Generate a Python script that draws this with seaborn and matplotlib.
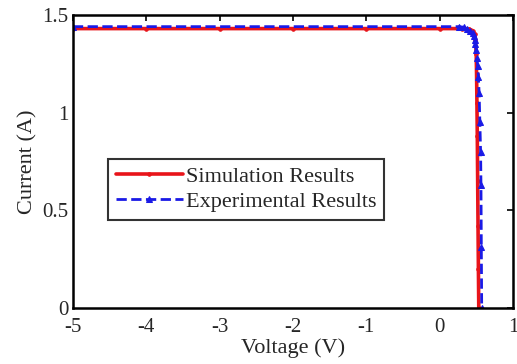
import matplotlib
matplotlib.use("Agg")
import matplotlib.pyplot as plt
import pandas as pd
import seaborn as sns

# simulated I-V curve
sim_voltage = [-5.0, -4.0, -3.0, -2.0, -1.0, 0.0, 0.30, 0.40, 0.45, 0.48, 0.49,
               0.50, 0.505, 0.51, 0.515, 0.52, 0.525, 0.53, 0.535]
sim_current = [1.43, 1.43, 1.43, 1.43, 1.43, 1.43, 1.43, 1.428, 1.42, 1.40, 1.37,
               1.30, 1.20, 1.05, 0.88, 0.65, 0.42, 0.20, 0.0]

# measured I-V points
exp_voltage = [-5.0, 0.27, 0.33, 0.38, 0.42, 0.45, 0.47, 0.48, 0.49, 0.50, 0.51,
               0.52, 0.53, 0.54, 0.55, 0.56, 0.565, 0.57, 0.575]
exp_current = [1.44, 1.44, 1.437, 1.43, 1.42, 1.41, 1.39, 1.37, 1.35, 1.32, 1.28,
               1.24, 1.18, 1.10, 0.95, 0.80, 0.63, 0.31, 0.0]

sim = pd.DataFrame({"Voltage": sim_voltage, "Current": sim_current})
exp = pd.DataFrame({"Voltage": exp_voltage, "Current": exp_current})

sns.set_theme(style="white")
plt.rcParams["font.family"] = ["Liberation Serif", "DejaVu Serif"]
plt.rcParams["axes.unicode_minus"] = False
plt.rcParams["xtick.direction"] = "in"
plt.rcParams["ytick.direction"] = "in"

fig = plt.figure(figsize=(5.17, 3.64), dpi=100)
ax = fig.add_axes([0.141, 0.154, 0.851, 0.805])

sns.lineplot(data=sim, x="Voltage", y="Current", sort=False, estimator=None,
             color="#e8141a", linewidth=2.6, marker=".", markersize=5,
             markeredgecolor="#e8141a", label="Simulation Results", ax=ax)
sns.lineplot(data=exp, x="Voltage", y="Current", sort=False, estimator=None,
             color="#1a1ae6", linewidth=2.0, linestyle="--", dashes=(4, 2),
             marker="^", markersize=5, markeredgecolor="#1a1ae6",
             label="Experimental Results", ax=ax)

ax.set_xlim(-5, 1)
ax.set_ylim(0, 1.5)
ax.set_xticks([-5, -4, -3, -2, -1, 0, 1])
ax.set_yticks([0, 0.5, 1, 1.5])
ax.set_yticklabels(["0", "0.5", "1", "1.5"])
ax.tick_params(axis="both", which="both", length=4, width=1.2, color="black",
               labelsize=15, top=True, right=True)
ax.tick_params(axis="x", pad=7)
ax.tick_params(axis="y", pad=3)
for s in ax.spines.values():
    s.set_color("black")
    s.set_linewidth(1.8)

ax.set_xlabel("Voltage (V)", fontsize=16, labelpad=1)
ax.set_ylabel("Current (A)", fontsize=16, labelpad=4)

leg = ax.legend(loc="lower left", bbox_to_anchor=(0.08, 0.3), fontsize=16,
                frameon=True, fancybox=False, handlelength=3.0,
                handletextpad=0.15, borderpad=0.35, labelspacing=0.2,
                borderaxespad=0)
leg.get_frame().set_edgecolor("black")
leg.get_frame().set_linewidth(1.5)

fig.savefig("out.png", dpi=100)
